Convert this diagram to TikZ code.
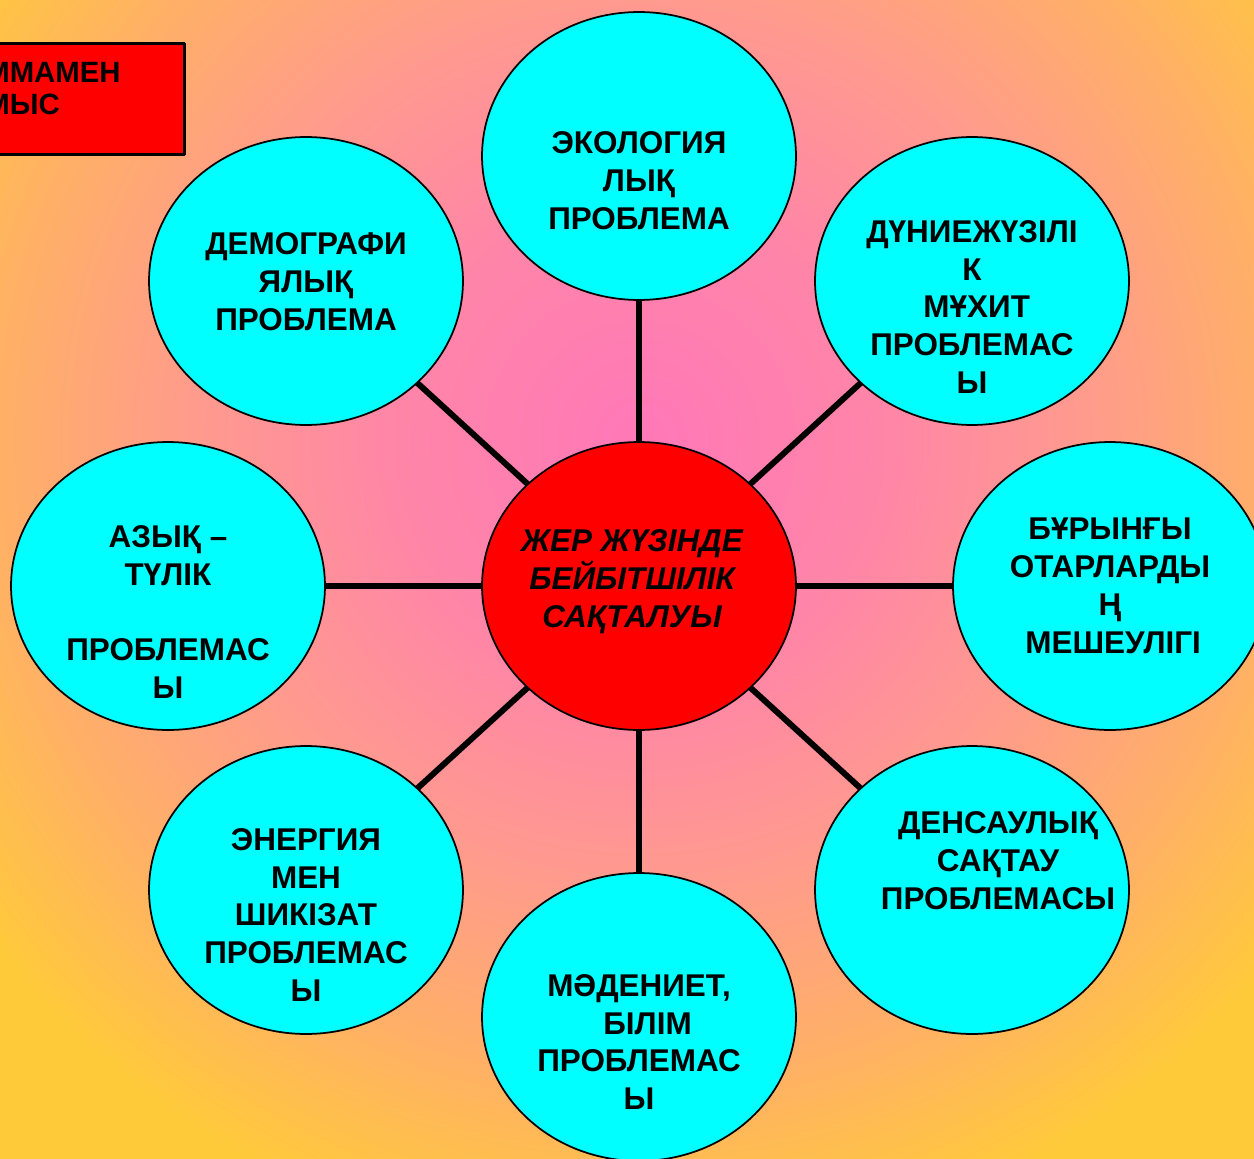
\documentclass[tikz,border=0pt]{standalone}
\usepackage{fontspec}
\setmainfont{Liberation Sans}
\usetikzlibrary{shapes.geometric}

\definecolor{glowpink}{HTML}{FF78B8}
\definecolor{glowrose}{HTML}{FF85A8}
\definecolor{glowsalmon}{HTML}{FF9A8E}
\definecolor{glowpeach}{HTML}{FFB066}
\definecolor{glowgold}{HTML}{FFCA3A}
\definecolor{bubblecyan}{HTML}{00FFFF}
\definecolor{hubred}{HTML}{FF0000}

\pgfdeclareradialshading{bgglow}{\pgfpoint{0bp}{0bp}}{%
  color(0bp)=(glowpink); color(6bp)=(glowrose); color(11bp)=(glowsalmon);
  color(16bp)=(glowpeach); color(20.5bp)=(glowgold); color(50bp)=(glowgold)}

\tikzset{
  bubble/.style={ellipse, draw=black, line width=1pt, fill=bubblecyan,
    minimum width=6.28cm, minimum height=5.76cm, inner sep=0pt},
  hub/.style={bubble, fill=hubred},
  spoke/.style={line width=3.4pt},
  caption/.style={font=\bfseries\fontsize{17.9}{21.6}\selectfont, align=center, inner sep=0pt},
  tagbox/.style={rectangle, draw=black, line width=1.7pt, fill=hubred,
    minimum width=4.06cm, minimum height=2.22cm, inner sep=0pt},
}

\begin{document}
\begin{tikzpicture}[x=0.02cm, y=-0.02cm, line join=round, line cap=round]
\useasboundingbox (0,0) rectangle (1254,1159);
\clip (0,0) rectangle (1254,1159);
\shade[shading=bgglow] (640,440) circle (1000);

\path
(639,586) coordinate (peace)
(639,156) coordinate (eco)
(306,281) coordinate (demo)
(972,281) coordinate (ocean)
(168,586) coordinate (food)
(1110,586) coordinate (colony)
(306,890) coordinate (energy)
(972,890) coordinate (health)
(639,1017) coordinate (culture);

% spokes first, the bubbles cover their ends
\foreach \p in {eco,demo,ocean,food,colony,energy,health,culture}
\draw[spoke] (peace)--(\p);

\foreach \p in {eco,demo,ocean,food,colony,energy,health,culture}
\node[bubble] (\p-b) at (\p) {};
\node[hub] (peace-b) at (peace) {};

\node[caption] (eco-t) at (639,181) {ЭКОЛОГИЯ\\ЛЫҚ\\ПРОБЛЕМА};
\node[caption] (demo-t) at (306,282) {ДЕМОГРАФИ\\ЯЛЫҚ\\ПРОБЛЕМА};
\node[caption] (ocean-t) at (972,307) {ДҮНИЕЖҮЗІЛІ\\К\\\hspace*{0.3em}МҰХИТ\\ПРОБЛЕМАС\\Ы};
\node[caption] (food-t) at (168,612) {АЗЫҚ –\\ТҮЛІК\\~\\ПРОБЛЕМАС\\Ы};
\node[caption] (colony-t) at (1110,586) {БҰРЫНҒЫ\\ОТАРЛАРДЫ\\Ң\\\hspace*{0.2em}МЕШЕУЛІГІ};
\node[caption] (health-t) at (998,861) {ДЕНСАУЛЫҚ\\САҚТАУ\\ПРОБЛЕМАСЫ};
\node[caption] (energy-t) at (306,915) {ЭНЕРГИЯ\\МЕН\\ШИКІЗАТ\\ПРОБЛЕМАС\\Ы};
\node[caption] (culture-t) at (639,1042) {МӘДЕНИЕТ,\\\hspace*{0.54em}БІЛІМ\\ПРОБЛЕМАС\\Ы};
\node[caption, font=\bfseries\itshape\fontsize{17.9}{21.6}\selectfont] (peace-t) at (632,582) {ЖЕР ЖҮЗІНДЕ\\БЕЙБІТШІЛІК\\САҚТАЛУЫ};

% red tab at the top left, cut by the frame
\node[tagbox, anchor=north west] (task) at (-20,42) {};
\node[caption, align=left, anchor=north west, font=\bfseries\fontsize{16.7}{18.2}\selectfont] (task-t) at (-15,62) {ММАМЕН\\МЫС};
\end{tikzpicture}
\end{document}
